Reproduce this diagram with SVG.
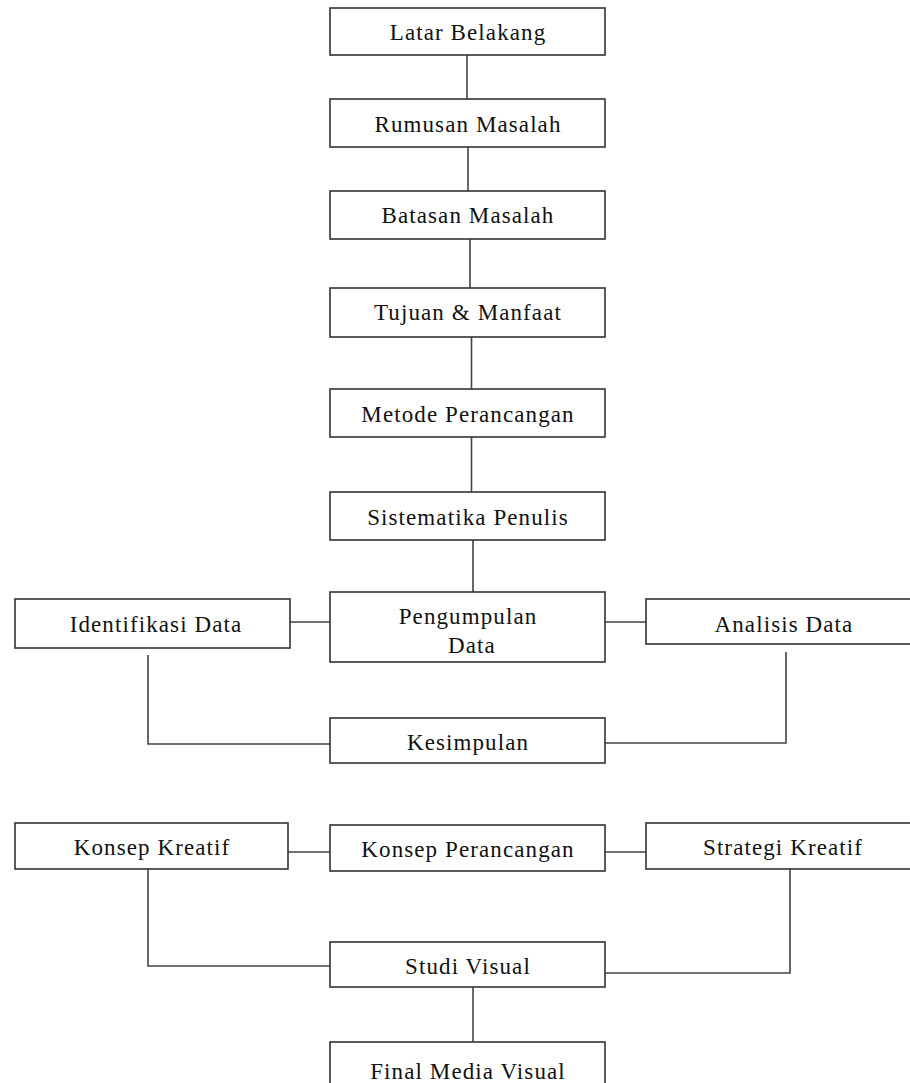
<svg xmlns="http://www.w3.org/2000/svg" width="910" height="1083" viewBox="0 0 910 1083">
<style>
.b{fill:#fff;stroke:#333;stroke-width:1.6}
.c{fill:none;stroke:#444;stroke-width:1.6}
.t{font-family:"Liberation Serif","Times New Roman",serif;font-size:23px;letter-spacing:1.1px;fill:#111;text-anchor:middle}
</style>
<rect width="910" height="1083" fill="#fff"/>
<g id="connectors">
<path class="c" d="M467 55V99M468 147V191M470 239V288M471.5 337V389M471.5 437V492M473 540V592"/>
<path class="c" d="M290 622H330M605 622H646"/>
<path class="c" d="M148 655V744H330M786 652V743H605"/>
<path class="c" d="M288 852H330M605 852H646"/>
<path class="c" d="M148 869V966H330M790 869V973H605"/>
<path class="c" d="M473 987V1042"/>
</g>
<g id="latar"><rect class="b" x="330" y="8" width="275" height="47"/><text class="t" x="468" y="40">Latar Belakang</text></g>
<g id="rumusan"><rect class="b" x="330" y="99" width="275" height="48"/><text class="t" x="468" y="132">Rumusan Masalah</text></g>
<g id="batasan"><rect class="b" x="330" y="191" width="275" height="48"/><text class="t" x="468" y="223">Batasan Masalah</text></g>
<g id="tujuan"><rect class="b" x="330" y="288" width="275" height="49"/><text class="t" x="468" y="320">Tujuan &amp; Manfaat</text></g>
<g id="metode"><rect class="b" x="330" y="389" width="275" height="48"/><text class="t" x="468" y="422">Metode Perancangan</text></g>
<g id="sistematika"><rect class="b" x="330" y="492" width="275" height="48"/><text class="t" x="468" y="525">Sistematika Penulis</text></g>
<g id="pengumpulan"><rect class="b" x="330" y="592" width="275" height="70"/><text class="t" x="468" y="624">Pengumpulan</text><text class="t" x="472" y="653">Data</text></g>
<g id="identifikasi"><rect class="b" x="15" y="599" width="275" height="49"/><text class="t" x="156" y="632">Identifikasi Data</text></g>
<g id="analisis"><rect class="b" x="646" y="599" width="270" height="45"/><text class="t" x="784" y="632">Analisis Data</text></g>
<g id="kesimpulan"><rect class="b" x="330" y="718" width="275" height="45"/><text class="t" x="468" y="750">Kesimpulan</text></g>
<g id="konsep-kreatif"><rect class="b" x="15" y="823" width="273" height="46"/><text class="t" x="152" y="855">Konsep Kreatif</text></g>
<g id="konsep-perancangan"><rect class="b" x="330" y="825" width="275" height="46"/><text class="t" x="468" y="857">Konsep Perancangan</text></g>
<g id="strategi"><rect class="b" x="646" y="823" width="270" height="46"/><text class="t" x="783" y="855">Strategi Kreatif</text></g>
<g id="studi"><rect class="b" x="330" y="942" width="275" height="45"/><text class="t" x="468" y="974">Studi Visual</text></g>
<g id="final"><rect class="b" x="330" y="1042" width="275" height="50"/><text class="t" x="468" y="1079">Final Media Visual</text></g>
</svg>
